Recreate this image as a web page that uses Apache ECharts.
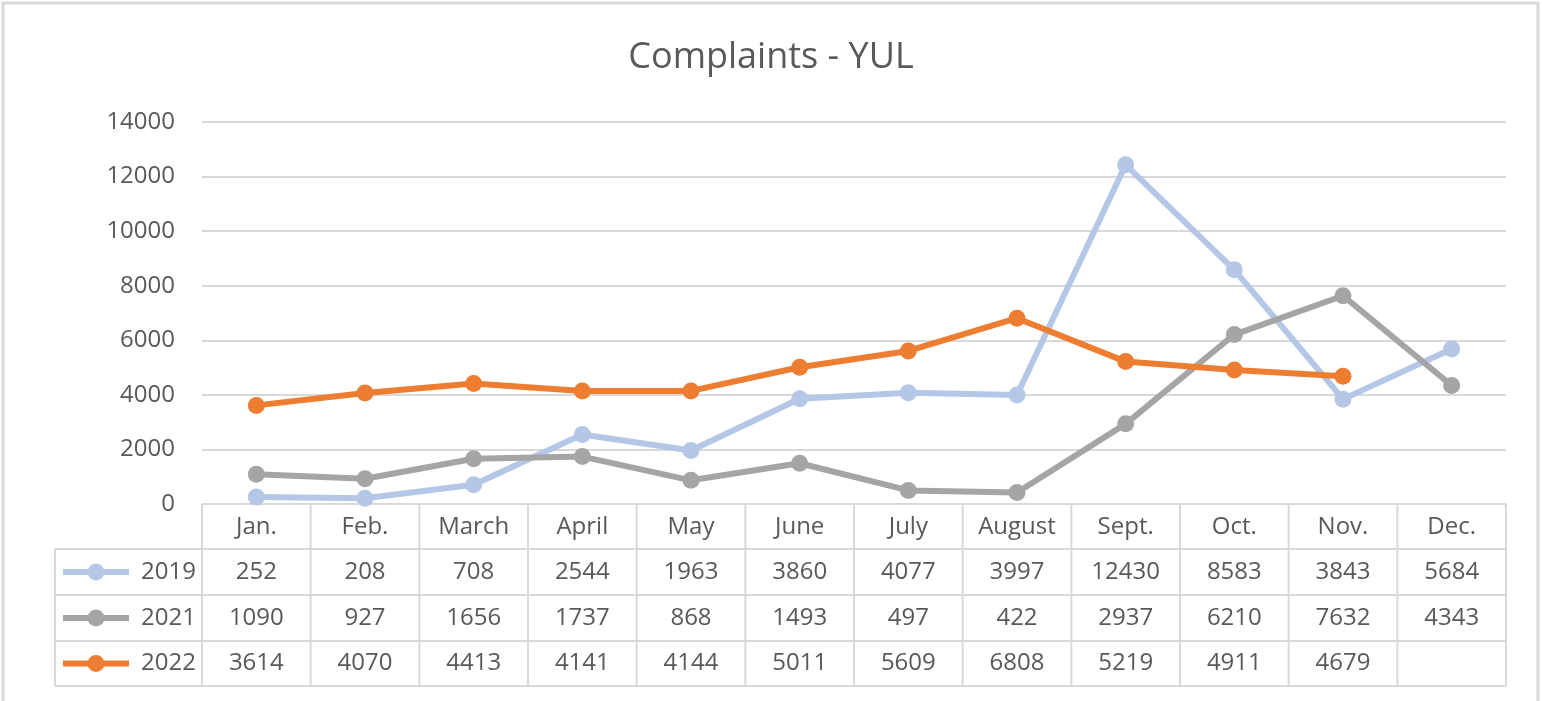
<!DOCTYPE html>
<html><head><meta charset="utf-8">
<script src="https://cdn.jsdelivr.net/npm/echarts@6/dist/echarts.min.js"></script>
<style>html,body{margin:0;padding:0;background:#fff}#c{width:1542px;height:701px}</style>
</head><body><div id="c"></div>
<script>
var months = ['Jan.','Feb.','March','April','May','June','July','August','Sept.','Oct.','Nov.','Dec.'];
var seriesNames = ['2019','2021','2022'];
var s2019 = [252,208,708,2544,1963,3860,4077,3997,12430,8583,3843,5684];
var s2021 = [1090,927,1656,1737,868,1493,497,422,2937,6210,7632,4343];
var s2022 = [3614,4070,4413,4141,4144,5011,5609,6808,5219,4911,4679,null];
var yTicks = {min:0, max:14000, interval:2000};
var colors = ['#B4C7E7','#A5A5A5','#ED7D31'];
var allData = [s2019, s2021, s2022];

var FONT = 'Open Sans';
var TXT = '#595959';
var LINE = '#D9D9D9';
var chart = echarts.init(document.getElementById('c'), null, {renderer:'canvas'});
var opt = {
  animation:false,
  backgroundColor:'#fff',
  title:{text:'Complaints - YUL', left:'center', top:35, textStyle:{fontFamily:FONT, fontSize:36, fontWeight:'normal', color:TXT}},
  grid:{left:202, right:36, top:122, bottom:197},
  xAxis:{type:'category', data:months, boundaryGap:true,
    axisLine:{show:false}, axisTick:{show:false},
    axisLabel:{margin:23, verticalAlign:'middle', fontFamily:FONT, fontSize:24, color:TXT, interval:0}},
  yAxis:{type:'value', min:yTicks.min, max:yTicks.max, interval:yTicks.interval,
    axisLine:{show:false}, axisTick:{show:false},
    axisLabel:{margin:27, fontFamily:FONT, fontSize:24, color:TXT, formatter:function(v){return String(v);}},
    splitLine:{lineStyle:{color:LINE, width:2}}},
  series: seriesNames.map(function(n,i){return {
    name:n, type:'line', data:allData[i], symbol:'circle', symbolSize:17,
    lineStyle:{color:colors[i], width:6}, itemStyle:{color:colors[i]}, z:2+i
  };})
};
chart.setOption(opt);

var xs = months.map(function(m,i){return chart.convertToPixel({xAxisIndex:0}, i);});
var bw = (xs[11]-xs[0])/11;
var left = xs[0]-bw/2, right = xs[11]+bw/2;
var rowY = [504, 549, 595, 641, 686];
var legLeft = 55;
var g = [];
function line(x1,y1,x2,y2){g.push({type:'line', shape:{x1:x1,y1:y1,x2:x2,y2:y2}, style:{stroke:LINE, lineWidth:2}, z:1});}
g.push({type:'rect', shape:{x:3,y:3,width:1535,height:720}, style:{fill:null, stroke:LINE, lineWidth:3}, z:0});
line(left, rowY[0], right, rowY[0]);
for (var r=1;r<rowY.length;r++) line(legLeft, rowY[r], right, rowY[r]);
line(legLeft, rowY[1], legLeft, rowY[4]);
for (var c=0;c<=12;c++){ var x = left + c*bw; line(x, rowY[0], x, rowY[4]); }
for (var s=0;s<3;s++){
  var cy = (rowY[s+1]+rowY[s+2])/2;
  g.push({type:'line', shape:{x1:63,y1:cy,x2:129,y2:cy}, style:{stroke:colors[s], lineWidth:6}, z:3});
  g.push({type:'circle', shape:{cx:96,cy:cy,r:8.5}, style:{fill:colors[s]}, z:3});
  g.push({type:'text', x:196, y:cy, style:{text:seriesNames[s], align:'right', verticalAlign:'middle', font:'24px "'+FONT+'"', fill:TXT}, z:3});
  for (var i=0;i<12;i++){
    var v = allData[s][i];
    if (v===null) continue;
    g.push({type:'text', x:xs[i], y:cy, style:{text:String(v), align:'center', verticalAlign:'middle', font:'24px "'+FONT+'"', fill:TXT}, z:3});
  }
}
chart.setOption({graphic:g});
</script></body></html>
